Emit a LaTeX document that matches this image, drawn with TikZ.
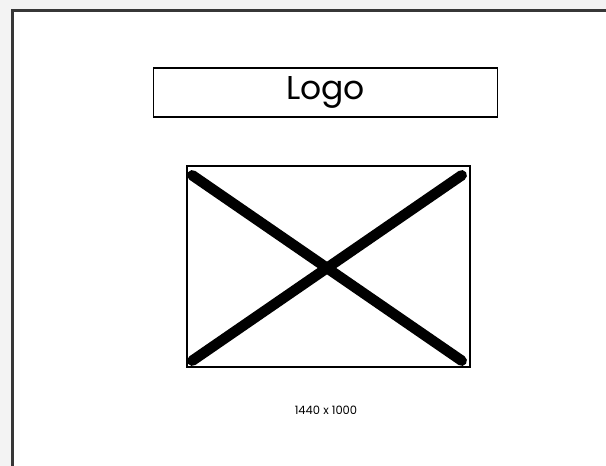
\documentclass[tikz,border=0pt]{standalone}
\usepackage{fontspec}
\setmainfont{Poppins}
\definecolor{pagegray}{RGB}{243, 243, 243}
\definecolor{framegray}{RGB}{55, 55, 55}
\usetikzlibrary{positioning, calc}

\begin{document}
\begin{tikzpicture}[x=1pt, y=-1pt]
  \useasboundingbox[fill=pagegray] (0,0) rectangle (606,466);
  % screen frame
  \draw[draw=framegray, line width=2.4pt, fill=white] (12.5,10.5) -- (12.5,472) -- (612,472) -- (612,10.5) -- cycle;

  \node[draw, line width=1.4pt, minimum width=344pt, minimum height=49pt, inner sep=0pt, font=\fontsize{33}{33}\selectfont] (logo) at (325.5,92.5) {Logo};
  \node[draw, line width=1.4pt, minimum width=283pt, minimum height=201pt, inner sep=0pt] (photo) at (328.5,266.5) {};
  \draw[line width=10.5pt, line cap=round] ($(photo.north west)+(6,10)$) -- ($(photo.south east)+(-9,-7)$);
  \draw[line width=10.5pt, line cap=round] ($(photo.south west)+(6,-7)$) -- ($(photo.north east)+(-9,10)$);
  \node[font=\fontsize{11.5}{11.5}\selectfont, inner sep=0pt] (size) at (326,410) {1440 x 1000};
\end{tikzpicture}
\end{document}
